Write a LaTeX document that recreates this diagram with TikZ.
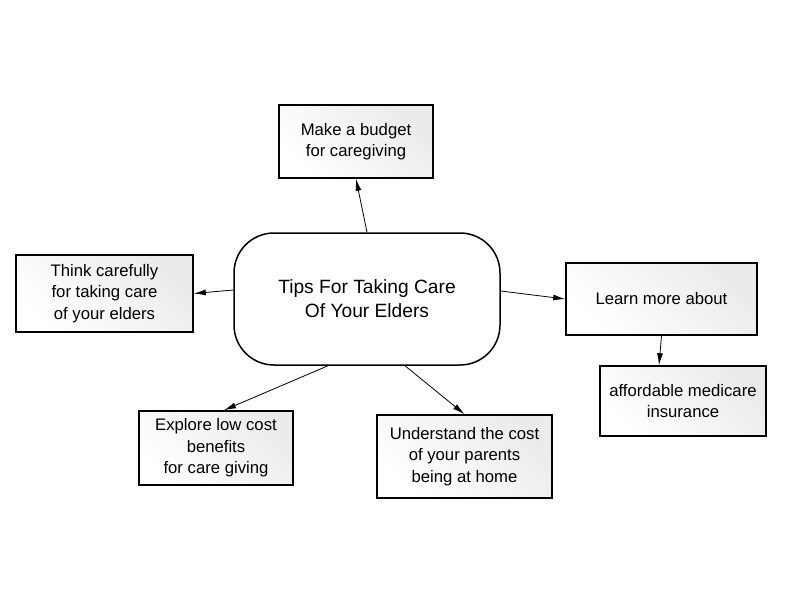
\documentclass[tikz,border=0pt]{standalone}
\usepackage{fontspec}
\setmainfont{Liberation Sans}
\usetikzlibrary{arrows.meta}

\tikzset{
  tipbox/.style={draw,line width=1.6pt,align=center,inner sep=0pt,
    left color=white,right color=black!8,shading angle=135,
    font=\fontsize{16.7}{21.5}\selectfont},
  hubbox/.style={draw,line width=1.5pt,rounded corners=40pt,align=center,
    fill=white,inner sep=0pt,font=\fontsize{19.2}{24}\selectfont},
  link/.style={-{Latex[length=12pt,width=6pt]},line width=0.8pt}
}

\begin{document}
\begin{tikzpicture}[x=1pt,y=-1pt]
        \useasboundingbox (0,0) rectangle (800,600);
        % centre
        \node[hubbox,minimum width=266pt,minimum height=132pt] (hub) at (367,299) {Tips For Taking Care\\Of Your Elders};
        % tips
        \node[tipbox,minimum width=154pt,minimum height=73pt] (budget) at (356,141.5) {Make a budget\\for caregiving};
        \node[tipbox,minimum width=177pt,minimum height=77pt] (think) at (104.5,293.5) {Think carefully\\for taking care \\ of your elders};
        \node[tipbox,minimum width=191pt,minimum height=72pt] (learn) at (661.5,299) {Learn more about};
        \node[tipbox,minimum width=166pt,minimum height=70pt] (afford) at (683,401) {affordable medicare\\insurance};
        \node[tipbox,minimum width=154pt,minimum height=74pt] (explore) at (216,448) {Explore low cost\\benefits\\ for care giving};
        \node[tipbox,minimum width=175pt,minimum height=83pt] (understand) at (464.5,456.5) {Understand the cost\\of your parents\\being at home};
        % links
        \draw[link] (hub.north) -- (budget.south);
        \draw[link] ([yshift=9pt]hub.west) -- (think.east);
        \draw[link] ([yshift=8pt]hub.east) -- (learn.west);
        \draw[link] (learn.south) -- ([xshift=-24pt]afford.north);
        \draw[link] ([xshift=-39pt]hub.south) -- ([xshift=8pt]explore.north);
        \draw[link] ([xshift=38pt]hub.south) -- (understand.north);
\end{tikzpicture}
\end{document}
